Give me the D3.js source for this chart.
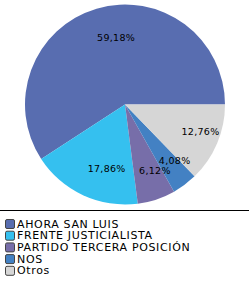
<!DOCTYPE html>
<html>
<head>
<meta charset="utf-8">
<script src="https://cdn.jsdelivr.net/npm/d3@7"></script>
<style>
  body { margin: 0; background: #fff; }
  text { font-family: "DejaVu Sans", Verdana, sans-serif; }
</style>
</head>
<body>
<div class="chart"></div>
<script>
const parties = ['AHORA SAN LUIS', 'FRENTE JUSTICIALISTA', 'PARTIDO TERCERA POSICIÓN', 'NOS', 'Otros']
const shares = [59.18, 17.86, 6.12, 4.08, 12.76]
const colors = ['#586db0', '#35c0ef', '#776ea9', '#4381c3', '#d6d6d6']

const width = 250
const height = 285
const cx = 125, cy = 104.5, radius = 100

let svg = d3.select('.chart')
  .append('svg')
  .attr('width', width)
  .attr('height', height)

let data = parties.map((p, i) => ({ name: p, value: shares[i], color: colors[i] }))

// counter-clockwise from 3 o'clock
let pie = d3.pie()
  .sort(null)
  .value(d => d.value)
  .startAngle(Math.PI / 2)
  .endAngle(Math.PI / 2 - 2 * Math.PI)

let arc = d3.arc().innerRadius(0).outerRadius(radius)
let labelArc = d3.arc().innerRadius(70).outerRadius(70)

let g = svg.append('g').attr('transform', 'translate(' + cx + ',' + cy + ')')

let arcs = pie(data)

g.selectAll('path')
  .data(arcs)
  .enter().append('path')
  .attr('d', arc)
  .attr('fill', d => d.data.color)

let fmt = v => v.toFixed(2).replace('.', ',') + '%'

g.selectAll('text.pct')
  .data(arcs)
  .enter().append('text')
  .attr('class', 'pct')
  .attr('x', d => labelArc.centroid(d)[0] - 8)
  .attr('y', d => labelArc.centroid(d)[1] + 3.5)
  .attr('font-size', '9.5px')
  .attr('letter-spacing', '0.3px')
  .attr('fill', '#000')
  .text(d => fmt(d.data.value))

// separator line
svg.append('line')
  .attr('x1', 0).attr('x2', 249)
  .attr('y1', 210.5).attr('y2', 210.5)
  .attr('stroke', '#000')
  .attr('stroke-width', 1)

let legend = svg.selectAll('.legend')
  .data(data)
  .enter().append('g')
  .attr('class', 'legend')
  .attr('transform', (d, i) => 'translate(0,' + (219 + i * 11.7) + ')')

legend.append('rect')
  .attr('x', 5.5).attr('y', 0.5)
  .attr('width', 9).attr('height', 9)
  .attr('rx', 1.5)
  .attr('fill', d => d.color)
  .attr('stroke', '#444')

legend.append('text')
  .attr('x', 17)
  .attr('y', 8.5)
  .attr('font-size', '11px')
  .attr('letter-spacing', '0.65px')
  .attr('fill', '#000')
  .text(d => d.name)
</script>
</body>
</html>
